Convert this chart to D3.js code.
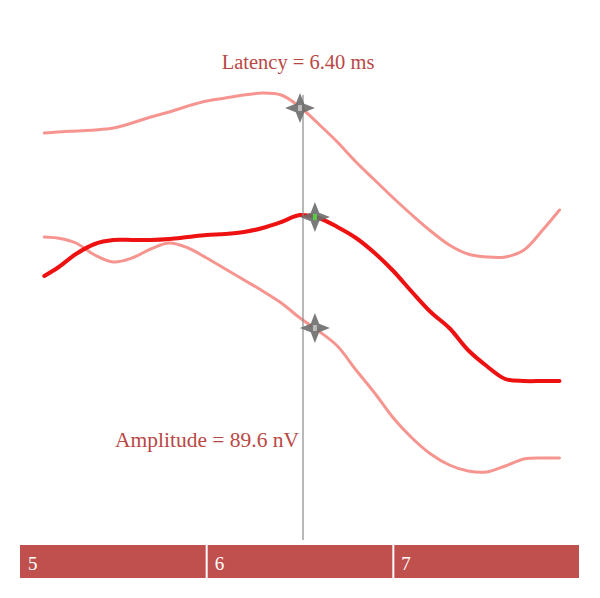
<!DOCTYPE html>
<html>
<head>
<meta charset="utf-8">
<script src="https://cdn.jsdelivr.net/npm/d3@7"></script>
<style>
  body { margin: 0; background: #fff; }
  svg { display: block; }
</style>
</head>
<body>
<svg id="chart" width="600" height="598"></svg>
<script>
// time samples (ms)
var times = [5.13, 5.2, 5.3, 5.4, 5.5, 5.6, 5.7, 5.8, 5.9, 6.0, 6.1, 6.2, 6.3, 6.4, 6.5,
             6.6, 6.7, 6.8, 6.9, 7.0, 7.1, 7.2, 7.3, 7.4, 7.5, 7.6, 7.7, 7.8, 7.89];

// traces (arbitrary offset units)
var traceTop = [427, 428, 429, 430, 432, 437, 443, 448, 454, 459, 462, 465, 467, 465, 453,
                436, 418, 398, 380, 362, 345, 329, 315, 306, 303, 303, 310, 330, 350];
var traceMid = [284, 292, 306, 316, 320, 320, 320, 321, 323, 325, 326, 328, 332, 338, 345,
                342, 333, 322, 307, 289, 268, 248, 232, 210, 194, 181, 179, 179, 179];
var traceBot = [323, 322, 317, 305, 298, 302, 311, 317, 312, 302, 291, 280, 269, 257, 242,
                229, 214, 190, 167, 142, 122, 106, 95, 89, 88, 94, 101, 102, 102];

var markerTimes = [6.5, 6.58, 6.58];
var markerValues = [452, 343, 232];
var cursorTime = 6.516;

var tickValues = [5, 6, 7];
var latencyLabel = "Latency = 6.40 ms";
var amplitudeLabel = "Amplitude = 89.6 nV";

var svg = d3.select("#chart");

var x = d3.scaleLinear().domain([5, 8]).range([20, 580]);
var y = d3.scaleLinear().domain([0, 500]).range([560, 60]);

var line = d3.line()
    .x(function (d) { return x(d[0]); })
    .y(function (d) { return y(d[1]); })
    .curve(d3.curveCatmullRom.alpha(0.5));

function pairs(vals) {
    return times.map(function (t, i) { return [t, vals[i]]; });
}

var traces = [
    { vals: traceTop, color: "#f4837c", width: 3, opacity: 0.85 },
    { vals: traceBot, color: "#f4837c", width: 3, opacity: 0.85 },
    { vals: traceMid, color: "#ee1111", width: 4, opacity: 1 }
];

svg.selectAll("path.trace").data(traces)
    .enter()
    .append("path")
    .attr("class", "trace")
    .attr("d", function (d) { return line(pairs(d.vals)); })
    .attr("fill", "none")
    .attr("stroke", function (d) { return d.color; })
    .attr("stroke-width", function (d) { return d.width; })
    .attr("stroke-opacity", function (d) { return d.opacity; })
    .attr("stroke-linejoin", "round")
    .attr("stroke-linecap", "round");

// cursor line
svg.append("line")
    .attr("x1", x(cursorTime)).attr("x2", x(cursorTime))
    .attr("y1", 95).attr("y2", 540)
    .attr("stroke", "#8a8a8a")
    .attr("stroke-width", 1.2);

// four point star markers
var star4 = {
    draw: function (ctx, size) {
        var r = Math.sqrt(size), w = r * 0.28;
        ctx.moveTo(0, -r);
        ctx.lineTo(w, -w);
        ctx.lineTo(r, 0);
        ctx.lineTo(w, w);
        ctx.lineTo(0, r);
        ctx.lineTo(-w, w);
        ctx.lineTo(-r, 0);
        ctx.lineTo(-w, -w);
        ctx.closePath();
    }
};

var marks = markerTimes.map(function (t, i) {
    return { t: t, v: markerValues[i], centre: i === 1 ? "#55cc44" : "#bbbbbb" };
});

var mg = svg.selectAll("g.mark").data(marks)
    .enter()
    .append("g")
    .attr("class", "mark")
    .attr("transform", function (d) { return "translate(" + x(d.t) + "," + y(d.v) + ")"; });

mg.append("path")
    .attr("d", d3.symbol().type(star4).size(225))
    .attr("fill", "#6b6b6b")
    .attr("fill-opacity", 0.9);

mg.append("rect")
    .attr("x", -2).attr("y", -3).attr("width", 4).attr("height", 6)
    .attr("fill", function (d) { return d.centre; });

// labels
svg.append("text")
    .attr("x", 298).attr("y", 69)
    .attr("text-anchor", "middle")
    .attr("font-family", "Liberation Serif, serif")
    .attr("font-size", 20.5)
    .attr("fill", "#b94845")
    .text(latencyLabel);

svg.append("text")
    .attr("x", 115).attr("y", 447)
    .attr("font-family", "Liberation Serif, serif")
    .attr("font-size", 21.5)
    .attr("fill", "#b94845")
    .text(amplitudeLabel);

// time axis bar
var bands = tickValues.map(function (t) { return { t0: t, t1: t + 1 }; });

var ax = svg.append("g");
ax.selectAll("rect").data(bands)
    .enter()
    .append("rect")
    .attr("x", function (d) { return x(d.t0) + (d.t0 === 5 ? 0 : 1); })
    .attr("y", 545)
    .attr("width", function (d) { return x(d.t1) - x(d.t0) - (d.t0 === 5 ? 1 : 2); })
    .attr("height", 33)
    .attr("fill", "#c0504d");

ax.selectAll("text").data(tickValues)
    .enter()
    .append("text")
    .attr("x", function (d) { return x(d) + 8; })
    .attr("y", 570)
    .attr("font-family", "Liberation Serif, serif")
    .attr("font-size", 19)
    .attr("fill", "#ffffff")
    .text(function (d) { return d; });
</script>
</body>
</html>
